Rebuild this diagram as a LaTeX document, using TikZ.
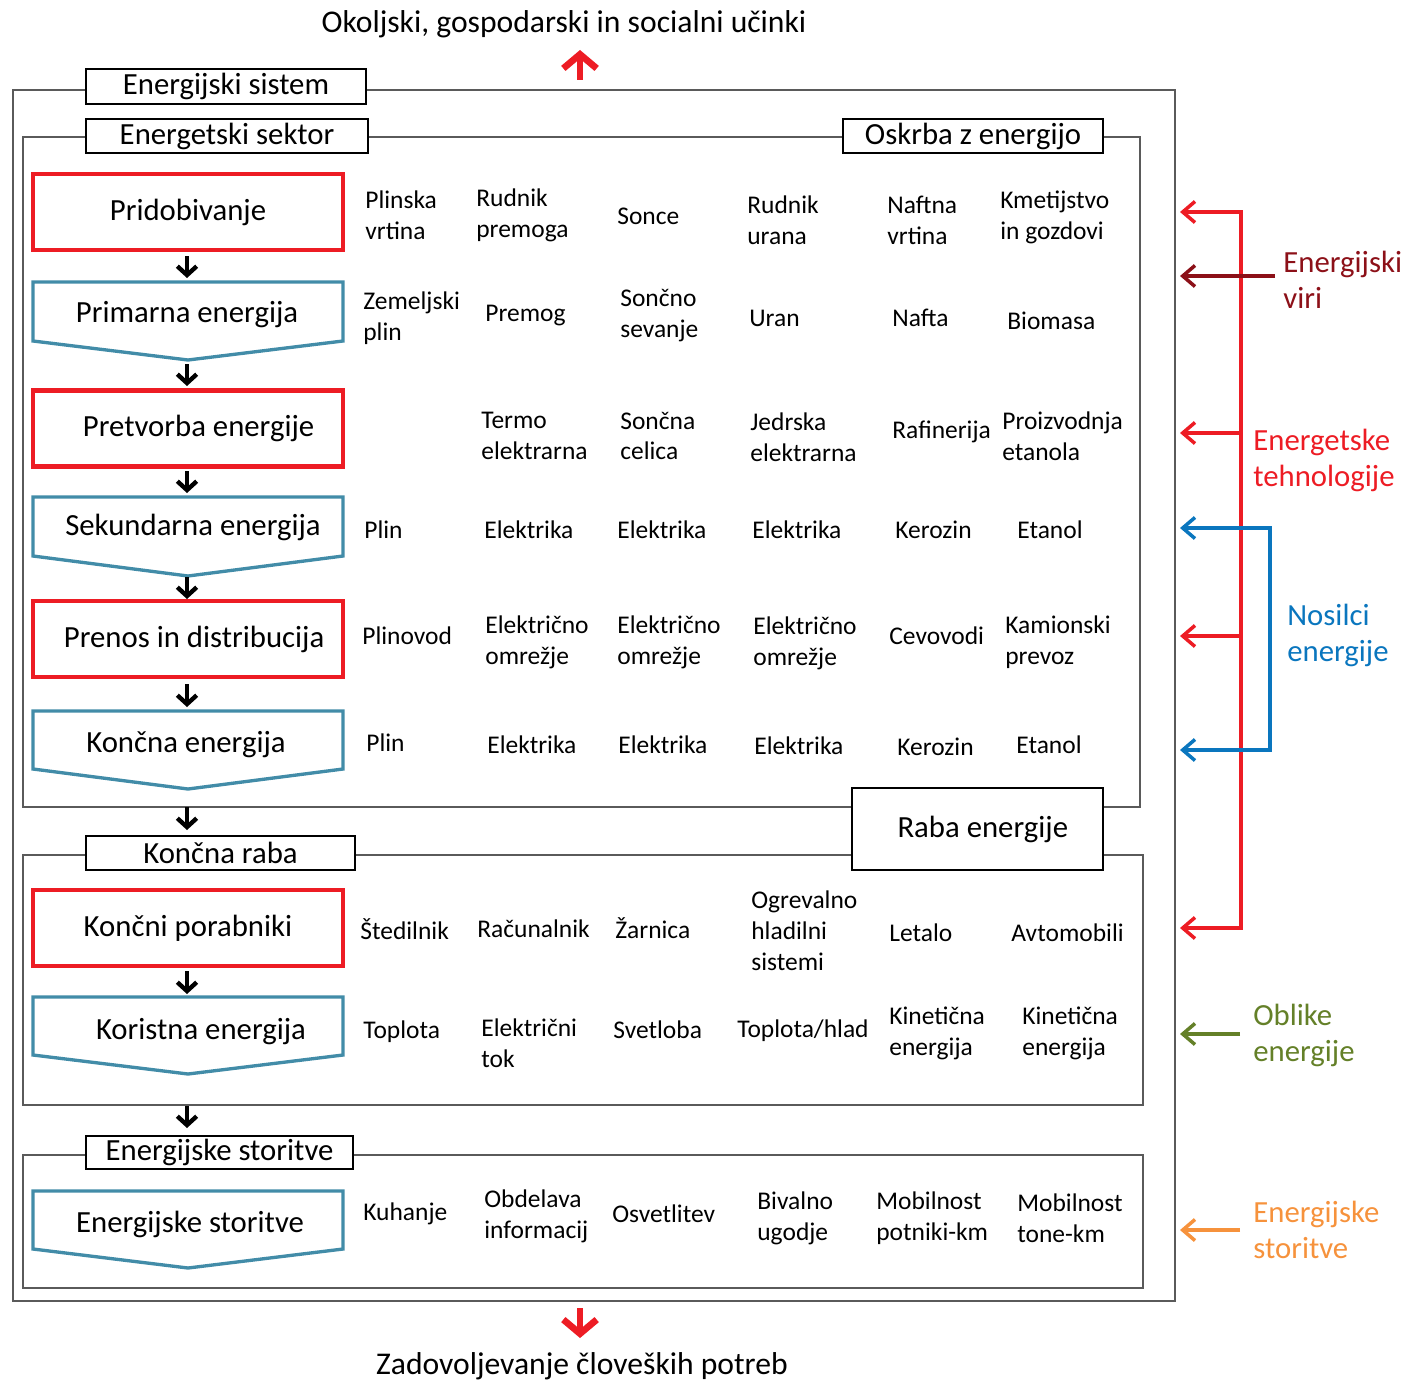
\documentclass[tikz,border=0pt]{standalone}
\usepackage{fontspec}
\setmainfont{Carlito}
\usetikzlibrary{arrows.meta}
\definecolor{boxred}{RGB}{237,28,36}
\definecolor{chevblue}{RGB}{66,140,168}
\definecolor{framegray}{RGB}{90,90,90}
\definecolor{virired}{RGB}{140,16,24}
\definecolor{nosblue}{RGB}{10,118,190}
\definecolor{oblgreen}{RGB}{100,128,40}
\definecolor{storange}{RGB}{246,146,60}
\newcommand\mylblfont{\fontsize{17.5}{20.5}\selectfont}
\newcommand\mycellfont{\fontsize{14.5}{17.6}\selectfont}
\newcommand\cellnode[4]{\node[cell] (#1) at (#2,#3) {#4};}
\begin{document}
\begin{tikzpicture}[x=0.02cm,y=-0.02cm,
  frame/.style={draw=framegray, line width=1.1pt},
  tag/.style={draw=black, line width=1.5pt, fill=white, font=\mylblfont, inner sep=0pt},
  redbox/.style={draw=boxred, line width=2.6pt, minimum width=6.2cm, minimum height=1.52cm, inner sep=0pt, font=\mylblfont},
  chev/.style={draw=chevblue, line width=1.9pt, line join=miter},
  lab/.style={font=\mylblfont, inner sep=0pt},
  cell/.style={font=\mycellfont, align=left, anchor=west, inner sep=0pt},
  flow/.style={line width=2.5pt, -{Straight Barb[length=5pt,width=11pt]}},
  bigred/.style={draw=boxred, line width=3.8pt, -{Straight Barb[length=8pt,width=19pt]}},
  side/.style={line width=2pt, >={Straight Barb[length=7pt,width=12pt]}},
  sidelab/.style={font=\mylblfont, align=left, anchor=west, inner sep=0pt}
]
\useasboundingbox (0,0) rectangle (1408,1382);

% frames
\draw[frame] (13,90) rectangle (1175,1301);
\draw[frame] (23,137) rectangle (1140,807);
\draw[frame] (23,855) rectangle (1143,1105);
\draw[frame] (23,1155) rectangle (1143,1288);

% frame tags
\node[tag, minimum width=5.6cm, minimum height=0.7cm] (tsys) at (226,86.5) {Energijski sistem};
\node[tag, minimum width=5.64cm, minimum height=0.68cm] (tsek) at (227,136) {Energetski sektor};
\node[tag, minimum width=5.2cm, minimum height=0.68cm] (toskr) at (973,136) {Oskrba z energijo};
\node[tag, minimum width=5.38cm, minimum height=0.68cm] (traba) at (220.5,853) {Končna raba\hspace{10pt}};
\node[tag, minimum width=5.02cm, minimum height=1.64cm] (trabaen) at (977.5,829) {\hspace{6pt}Raba energije};
\node[tag, minimum width=5.34cm, minimum height=0.66cm] (tstor) at (219.5,1152.5) {Energijske storitve};

% titles
\node[lab, font=\fontsize{18}{21}\selectfont] (top) at (564,24) {Okoljski, gospodarski in socialni učinki};
\node[lab, font=\fontsize{18}{21}\selectfont] (bot) at (582,1366) {Zadovoljevanje človeških potreb};
\coordinate (upS) at (580,80);
\coordinate (upE) at (580,50);
\coordinate (dnS) at (580,1308);
\coordinate (dnE) at (580,1338);
\draw[bigred] (upS) -- (upE);
\draw[bigred] (dnS) -- (dnE);

% flow column
\node[redbox] (n1) at (188,212) {Pridobivanje};
\draw[chev] (33,282) -- (343,282) -- (343,341) -- (188,360) -- (33,341) -- cycle;
\node[lab] (n2) at (187,315) {Primarna energija};
\node[redbox] (n3) at (188,428.5) {\hspace{12pt}Pretvorba energije};
\draw[chev] (33,497) -- (343,497) -- (343,556) -- (188,576) -- (33,556) -- cycle;
\node[lab] (n4) at (193,527) {Sekundarna energija};
\node[redbox] (n5) at (188,639) {\hspace{7pt}Prenos in distribucija};
\draw[chev] (33,711) -- (343,711) -- (343,769) -- (188,789) -- (33,769) -- cycle;
\node[lab] (n6) at (186,745) {Končna energija};
\node[redbox] (n7) at (188,928) {Končni porabniki};
\draw[chev] (33,997) -- (343,997) -- (343,1055) -- (188,1074) -- (33,1055) -- cycle;
\node[lab] (n8) at (201,1032) {Koristna energija};
\draw[chev] (33,1191) -- (343,1191) -- (343,1249) -- (188,1268) -- (33,1249) -- cycle;
\node[lab] (n9) at (190,1224) {Energijske storitve};

\coordinate (a1s) at (187,256); \coordinate (a1e) at (187,278);
\coordinate (a2s) at (187,364); \coordinate (a2e) at (187,386);
\coordinate (a3s) at (187,471); \coordinate (a3e) at (187,493);
\coordinate (a4s) at (187,577); \coordinate (a4e) at (187,599);
\coordinate (a5s) at (187,684); \coordinate (a5e) at (187,707);
\coordinate (a6s) at (187,807); \coordinate (a6e) at (187,830);
\coordinate (a7s) at (187,971); \coordinate (a7e) at (187,994);
\coordinate (a8s) at (187,1106); \coordinate (a8e) at (187,1128);
\foreach \i in {1,...,8} \draw[flow] (a\i s) -- (a\i e);

% row 1
\cellnode{c11}{365}{215}{Plinska\\vrtina}
\cellnode{c12}{476}{215}{Rudnik\\premoga}
\cellnode{c13}{617}{216}{Sonce}
\cellnode{c14}{747}{220}{Rudnik\\urana}
\cellnode{c15}{887}{220}{Naftna\\vrtina}
\cellnode{c16}{1000}{217}{Kmetijstvo\\in gozdovi}
% row 2
\cellnode{c21}{363}{318}{Zemeljski\\plin}
\cellnode{c22}{485}{316}{Premog}
\cellnode{c23}{620}{316}{Sončno\\sevanje}
\cellnode{c24}{749}{318}{Uran}
\cellnode{c25}{892}{318}{Nafta}
\cellnode{c26}{1007}{321}{Biomasa}
% row 3
\cellnode{c32}{481}{436}{Termo\\elektrarna}
\cellnode{c33}{620}{436}{Sončna\\celica}
\cellnode{c34}{750}{437}{Jedrska\\elektrarna}
\cellnode{c35}{892}{432}{Rafinerija}
\cellnode{c36}{1002}{436}{Proizvodnja\\etanola}
% row 4
\cellnode{c41}{364}{530}{Plin}
\cellnode{c42}{484}{530}{Elektrika}
\cellnode{c43}{617}{530}{Elektrika}
\cellnode{c44}{752}{530}{Elektrika}
\cellnode{c45}{895}{530}{Kerozin}
\cellnode{c46}{1017}{530}{Etanol}
% row 5
\cellnode{c51}{362}{636}{Plinovod}
\cellnode{c52}{485}{642}{Električno\\omrežje}
\cellnode{c53}{617}{642}{Električno\\omrežje}
\cellnode{c54}{753}{643}{Električno\\omrežje}
\cellnode{c55}{889}{636}{Cevovodi}
\cellnode{c56}{1005}{642}{Kamionski\\prevoz}
% row 6
\cellnode{c61}{366}{743}{Plin}
\cellnode{c62}{487}{745}{Elektrika}
\cellnode{c63}{618}{745}{Elektrika}
\cellnode{c64}{754}{746}{Elektrika}
\cellnode{c65}{897}{747}{Kerozin}
\cellnode{c66}{1016}{745}{Etanol}
% row 7
\cellnode{c71}{360}{929}{Štedilnik}
\cellnode{c72}{477}{929}{Računalnik}
\cellnode{c73}{615}{928}{Žarnica}
\cellnode{c74}{751}{931}{Ogrevalno\\hladilni\\sistemi}
\cellnode{c75}{889}{933}{Letalo}
\cellnode{c76}{1011}{933}{Avtomobili}
% row 8
\cellnode{c81}{363}{1032}{Toplota}
\cellnode{c82}{481}{1043}{Električni\\tok}
\cellnode{c83}{613}{1030}{Svetloba}
\cellnode{c84}{737}{1031}{Toplota/hlad}
\cellnode{c85}{889}{1033}{Kinetična\\energija}
\cellnode{c86}{1022}{1033}{Kinetična\\energija}
% row 9
\cellnode{c91}{363}{1214}{Kuhanje}
\cellnode{c92}{484}{1216}{Obdelava\\informacij}
\cellnode{c93}{612}{1214}{Osvetlitev}
\cellnode{c94}{757}{1218}{Bivalno\\ugodje}
\cellnode{c95}{876}{1218}{Mobilnost\\potniki-km}
\cellnode{c96}{1017}{1218}{Mobilnost\\tone-km}

% right side
\coordinate (r1) at (1180,212);
\coordinate (r2) at (1180,433);
\coordinate (r3) at (1180,636);
\coordinate (r4) at (1180,928);
\coordinate (rv1) at (1241,212);
\coordinate (rv2) at (1241,433);
\coordinate (rv3) at (1241,636);
\coordinate (rv4) at (1241,928);
\draw[side, draw=boxred, <->] (r1) -- (rv1) -- (rv4) -- (r4);
\draw[side, draw=boxred, ->] (rv2) -- (r2);
\draw[side, draw=boxred, ->] (rv3) -- (r3);

\coordinate (v1) at (1275,276);
\coordinate (v2) at (1180,276);
\draw[side, draw=virired, ->] (v1) -- (v2);

\coordinate (b1) at (1180,528);
\coordinate (b2) at (1270,528);
\coordinate (b3) at (1270,750);
\coordinate (b4) at (1180,750);
\draw[side, draw=nosblue, <->] (b1) -- (b2) -- (b3) -- (b4);

\coordinate (g1) at (1240,1034);
\coordinate (g2) at (1180,1034);
\draw[side, draw=oblgreen, ->] (g1) -- (g2);
\coordinate (o1) at (1240,1230);
\coordinate (o2) at (1180,1230);
\draw[side, draw=storange, ->] (o1) -- (o2);

\node[sidelab, text=virired] (lviri) at (1283,280) {Energijski\\viri};
\node[sidelab, text=boxred] (ltech) at (1253,460) {Energetske\\tehnologije};
\node[sidelab, text=nosblue] (lnos) at (1287,635) {Nosilci\\energije};
\node[sidelab, text=oblgreen] (lobl) at (1253,1035) {Oblike\\energije};
\node[sidelab, text=storange] (lstor) at (1253,1230) {Energijske\\storitve};
\end{tikzpicture}
\end{document}
